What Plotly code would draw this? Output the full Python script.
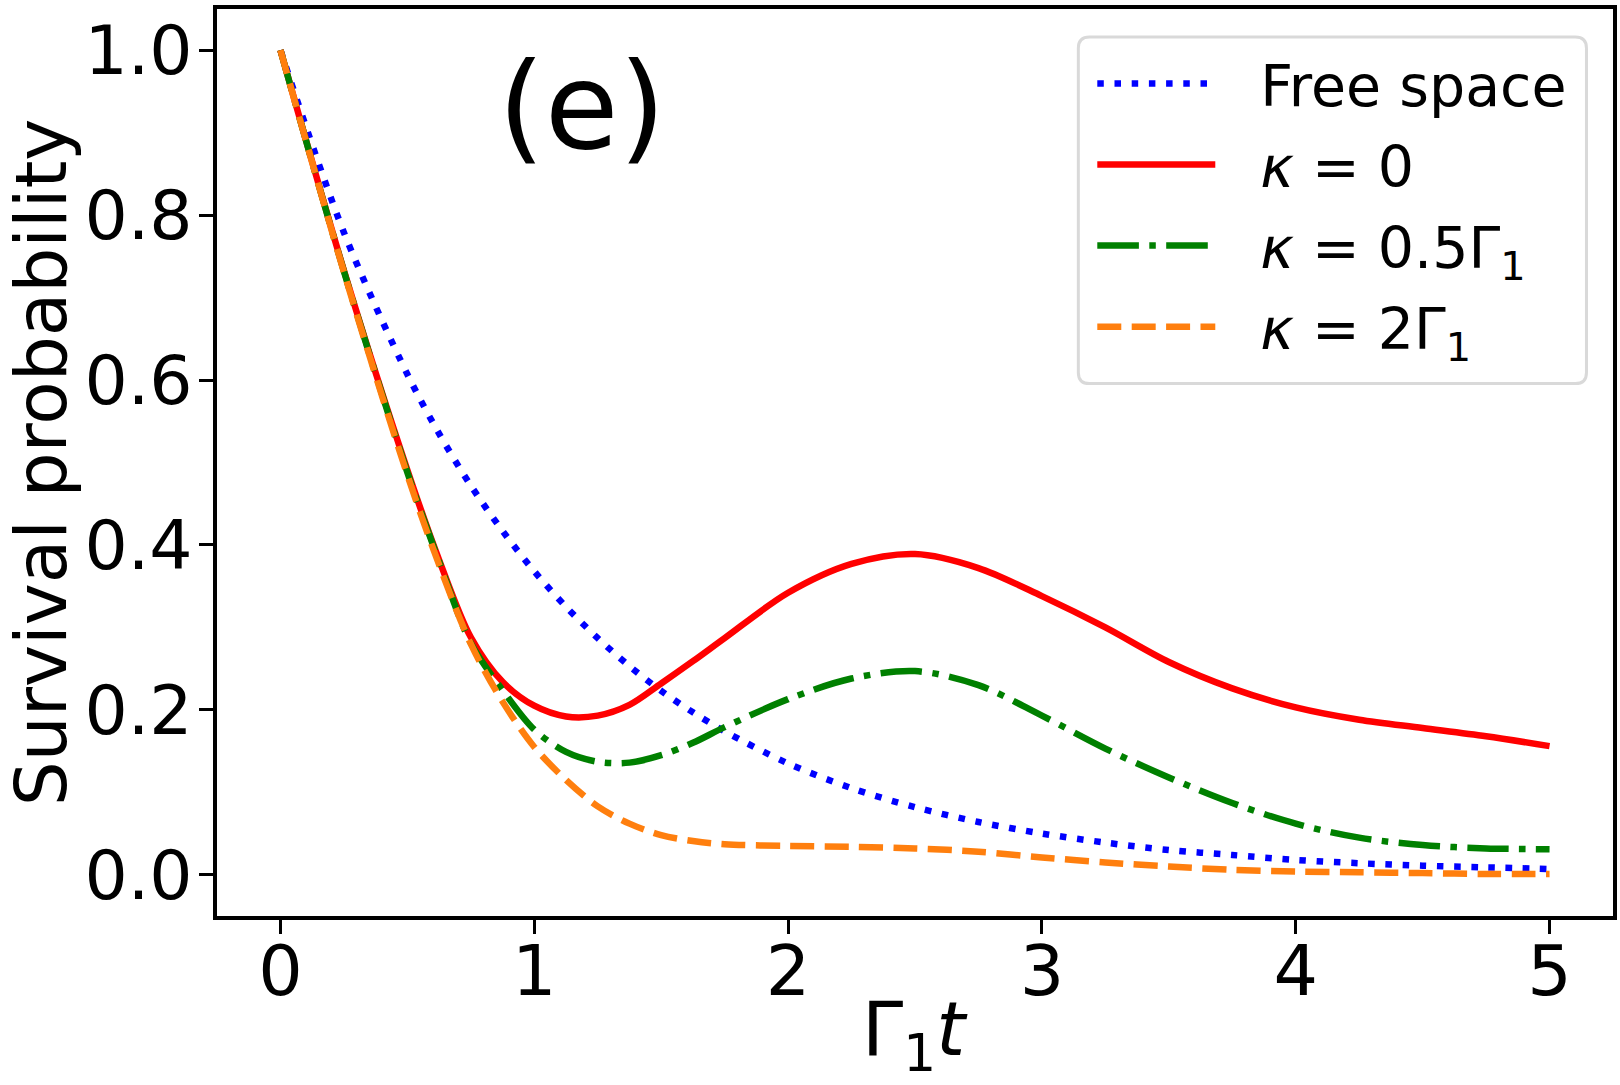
import plotly.graph_objects as go

# ---- data ----
t_vals = [0.0, 0.25, 0.5, 0.625, 0.75, 0.875, 1.0, 1.125, 1.25, 1.375, 1.5, 1.625, 1.75,
          2.0, 2.25, 2.5, 2.75, 3.0, 3.25, 3.5, 3.75, 4.0, 4.25, 4.5, 4.75, 5.0]

free_space = [1.000, 0.779, 0.607, 0.535, 0.472, 0.417, 0.368, 0.325, 0.287, 0.253, 0.223, 0.197, 0.174,
              0.135, 0.105, 0.082, 0.064, 0.050, 0.039, 0.030, 0.024, 0.018, 0.014, 0.011, 0.009, 0.007]

kappa_0 = [1.000, 0.733, 0.491, 0.382, 0.288, 0.234, 0.205, 0.192, 0.193, 0.206, 0.232, 0.259, 0.287,
           0.342, 0.377, 0.389, 0.372, 0.338, 0.300, 0.258, 0.226, 0.203, 0.188, 0.178, 0.168, 0.156]

kappa_05 = [1.000, 0.732, 0.488, 0.380, 0.281, 0.224, 0.176, 0.149, 0.137, 0.136, 0.145, 0.160, 0.179,
            0.213, 0.238, 0.247, 0.230, 0.193, 0.153, 0.118, 0.087, 0.062, 0.045, 0.036, 0.032, 0.031]

kappa_2 = [1.000, 0.731, 0.485, 0.376, 0.280, 0.210, 0.155, 0.115, 0.083, 0.062, 0.048, 0.041, 0.037,
           0.035, 0.034, 0.032, 0.028, 0.021, 0.015, 0.010, 0.006, 0.004, 0.003, 0.002, 0.001, 0.001]

x_ticks = [0, 1, 2, 3, 4, 5]
y_ticks = [0.0, 0.2, 0.4, 0.6, 0.8, 1.0]
y_tick_text = ["0.0", "0.2", "0.4", "0.6", "0.8", "1.0"]

GAP = "\u2002\u2009"
series = [
    ("Free space", free_space, "#0000ff", "6.5px,10.7px"),
    ("<i>κ</i> = 0", kappa_0, "#ff0000", "solid"),
    ("<i>κ</i> = 0.5Γ<sub>1</sub>", kappa_05, "#008000", "41.6px,10.4px,6.5px,10.4px"),
    ("<i>κ</i> = 2Γ<sub>1</sub>", kappa_2, "#ff7f0e", "24px,10.4px"),
]

FONT = "DejaVu Sans"

fig = go.Figure()
for i, (name, vals, color, dash) in enumerate(series):
    fig.add_trace(go.Scatter(
        x=t_vals, y=vals, mode="lines", name=GAP + name,
        legendgroup=f"g{i}",
        line=dict(color=color, width=6.5, dash=dash, shape="spline", smoothing=0.9),
    ))

# legend frame (rounded, light grey)
x0, x1, y0, y1 = 0.617, 0.981, 0.587, 0.969
r = 0.008
ry = r * 1396 / 907
fig.add_shape(
    type="path", xref="paper", yref="paper", layer="above",
    path=(f"M{x0+r},{y0} L{x1-r},{y0} Q{x1},{y0} {x1},{y0+ry} "
          f"L{x1},{y1-ry} Q{x1},{y1} {x1-r},{y1} L{x0+r},{y1} Q{x0},{y1} {x0},{y1-ry} "
          f"L{x0},{y0+ry} Q{x0},{y0} {x0+r},{y0} Z"),
    line=dict(color="#d9d9d9", width=3), fillcolor="rgba(255,255,255,0.85)",
)

fig.add_annotation(
    text="(e)", x=0.261, y=0.893, xref="paper", yref="paper",
    xanchor="center", yanchor="middle", showarrow=False,
    font=dict(family=FONT, size=120, color="black"),
)

# x-axis title placed explicitly (axis title would be squeezed by the margin)
fig.add_annotation(
    text="Γ<sub>1</sub><i>t</i>", x=0.5, y=-0.1863, xref="paper", yref="paper",
    xanchor="center", yanchor="bottom", showarrow=False,
    font=dict(family=FONT, size=74, color="black"),
)

fig.update_layout(
    width=1620, height=1085,
    margin=dict(l=217, r=7, t=9, b=169),
    paper_bgcolor="white", plot_bgcolor="white",
    font=dict(family=FONT, color="black"),
    showlegend=True,
    legend=dict(
        x=0.627, y=0.966, xanchor="left", yanchor="top",
        bgcolor="rgba(0,0,0,0)", borderwidth=0,
        font=dict(family=FONT, size=57, color="black"),
        itemwidth=118, tracegroupgap=4, traceorder="grouped",
    ),
    xaxis=dict(
        range=[-0.25, 5.25], tickvals=x_ticks, ticktext=[str(v) for v in x_ticks],
        showgrid=False, zeroline=False, automargin=False,
        showline=True, linecolor="black", linewidth=3.5, mirror=True,
        ticks="outside", ticklen=14, tickwidth=3, tickcolor="black",
        ticklabelstandoff=-23,
        tickfont=dict(family=FONT, size=70, color="black"),
    ),
    yaxis=dict(
        range=[-0.05, 1.05], tickvals=y_ticks, ticktext=y_tick_text,
        showgrid=False, zeroline=False, automargin=False,
        showline=True, linecolor="black", linewidth=3.5, mirror=True,
        ticks="outside", ticklen=14, tickwidth=3, tickcolor="black",
        ticklabelstandoff=-7,
        tickfont=dict(family=FONT, size=68, color="black"),
        title=dict(text="Survival probability", font=dict(family=FONT, size=71, color="black"),
                   standoff=38),
    ),
)

fig.write_html("out.html")
